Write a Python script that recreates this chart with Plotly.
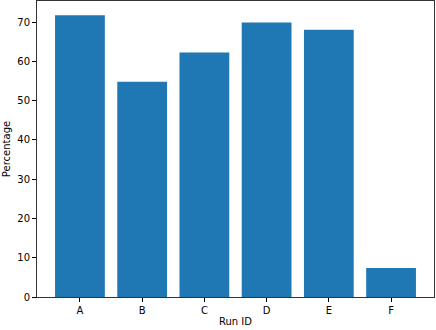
import plotly.graph_objs as go

runs = ["A", "B", "C", "D", "E", "F"]
percentages = [71.8, 54.8, 62.3, 69.9, 68.1, 7.4]

axis_common = dict(
    showline=True,
    linecolor="#333333",
    linewidth=1,
    mirror=True,
    ticks="outside",
    ticklen=4,
    tickwidth=1,
    tickcolor="black",
    showgrid=False,
    zeroline=False,
    automargin=False,
    tickfont=dict(family="DejaVu Sans", size=10, color="black"),
)

bars = go.Bar(
    x=list(range(len(runs))),
    y=percentages,
    width=0.8,
    marker=dict(color="#1f77b4", line=dict(width=0)),
    hoverinfo="skip",
)

layout = go.Layout(
    width=436,
    height=330,
    margin=dict(l=37, r=2, t=1, b=33),
    paper_bgcolor="white",
    plot_bgcolor="white",
    showlegend=False,
    font=dict(family="DejaVu Sans", size=10, color="black"),
    xaxis=dict(
        axis_common,
        range=[-0.69, 5.69],
        tickmode="array",
        tickvals=list(range(len(runs))),
        ticktext=runs,
        title=dict(text="Run ID", standoff=2, font=dict(size=10)),
    ),
    yaxis=dict(
        axis_common,
        range=[0, 75.4],
        tickmode="linear",
        tick0=0,
        dtick=10,
        title=dict(text="Percentage", standoff=4, font=dict(size=10)),
    ),
)

fig = go.Figure(data=[bars], layout=layout)
# page has a default 8px body margin; drop it so the figure fills the window
fig.write_html(
    "out.html",
    config={"displayModeBar": False},
    post_script="document.body.style.margin = '0';",
)
